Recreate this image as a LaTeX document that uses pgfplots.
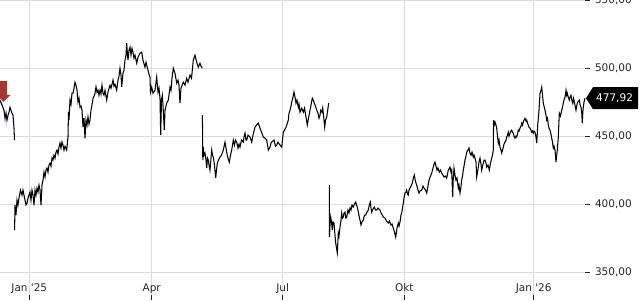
\documentclass[border=0pt]{standalone}
\usepackage{fontspec}
\newfontfamily\dv{DejaVu Sans}
\setmainfont{DejaVu Sans}
\usepackage{pgfplots}
\pgfplotsset{compat=1.18}
\definecolor{gridc}{RGB}{220,220,220}
\definecolor{arrowred}{RGB}{163,55,50}
\definecolor{cyanl}{RGB}{120,200,220}
\begin{document}
\begin{tikzpicture}
\useasboundingbox (0,0) rectangle (640pt,300pt);
\begin{axis}[
  at={(0,0)}, anchor=south west,
  scale only axis, width=585pt, height=300pt,
  xmin=0, xmax=585, ymin=329.4, ymax=550.2,
  axis line style={draw=none},
  clip=false,
  xtick={29.3,151.7,282.7,404.3,533.7},
  xticklabels={Jan \textquotesingle25,Apr,Jul,Okt,Jan \textquotesingle26},
  ytick={350,400,450,500,550},
  yticklabels={{350,00},{400,00},{450,00},{500,00},{550,00}},
  yticklabel pos=right,
  tick align=outside,
  major tick length=5pt,
  xtick style={yshift=5pt, draw=black!85, line width=0.8pt},
  ytick style={draw=black!85, line width=0.8pt},
  grid=major,
  major grid style={draw=gridc, line width=0.8pt},
  ticklabel style={font=\dv\fontsize{10.5}{12}\selectfont, text=black!85},
  yticklabel style={anchor=west, xshift=1.5pt},
  xticklabel style={anchor=base, yshift=14pt},
]
\addplot[cyanl, line width=0.6pt] coordinates {(1.5,475.2) (4,469) (6.5,457.3)};
\addplot[black, line width=1.05pt] coordinates {
(0,476.5) (2,472.8) (4,469.1) (5,463.2) (6,466.9) (7,461.8) (8,465.4) (9,467.6) (10,471.3) (11,469.1) (12,466.9) (13,465.4) (14,455.9) (14.5,447.1)};
\addplot[black, line width=1.05pt] coordinates {
(14.6,380.9) (15,399.3) (16,391.9) (17,402.9) (18,399.3) (19,404.4) (20.5,410.3) (22,406.6) (23,410.3) (24,406.6) (25,402.9) (26,399.3) (27,400.7) (28,404.4) (30,408.8) (31,402.9) (32,410.3) (33,406.6) (34,399.3) (35,410.3) (36,406.6) (37,411.8) (38,408.8) (39,414.0) (40,410.3) (41,399.3) (42,414.0) (43,417.6) (44,423.5) (45,419.9) (46,425.0) (47,426.5) (48,423.5) (49,428.7) (50,430.1) (51,427.9) (52,433.8) (53,432.4) (54,436.0) (55,433.8) (56,438.2) (57,439.7) (58,436.8) (59,441.9) (60,444.9) (61,441.2) (62,445.6) (63,443.4) (64,439.7) (65,442.6) (66.7,439.7) (68,449.5) (68.5,467.9) (69,461.8) (70,476.5) (71,473.5) (72,481.6) (73,481.6) (74,485.3) (75,489.7) (76,487.5) (77,483.8) (78,475.2) (79,477.9) (80,471.3) (81,472.1) (82,469.1) (83,456.8) (84,463.2) (85,448.3) (86,461.8) (87,458.1) (88,464.2) (89,458.8) (90,461.8) (91,469.1) (92,472.8) (93,477.9) (94,479.4) (95,481.6) (96,486.3) (97,482.4) (98,483.8) (99,480.1) (100,483.8) (101,480.9) (102,487.5) (103,481.6) (104,480.1) (105,483.8) (106.7,476.5) (108,482.4) (110,487.5) (111,485.3) (113,491.2) (114,486.8) (115,488.2) (116.7,483.8) (118,491.2) (119,494.1) (120,500.0) (121,494.9) (121.7,486.3) (123,496.3) (124,498.5) (125,505.9) (126,509.6) (126.7,518.4) (127.5,509.6) (128,505.9) (129,513.2) (130,515.4) (131,509.6) (132,514.7) (133,511.8) (134,507.4) (135,509.6) (136.7,503.7) (138,508.1) (140,511.0) (141.7,511.8) (143,505.9) (145,500.7) (146,504.4) (148,498.5) (149,495.6) (150,493.4) (150.5,482.4) (151.7,486.0) (153,481.6) (155,483.8) (156.7,493.4) (158,482.4) (159,485.3) (160,477.9) (160.7,450.7) (161.5,476.5) (162.3,480.1) (163,472.8) (164.3,454.4) (165,469.1) (166.7,474.3) (168.3,476.5) (170,486.0) (171,483.8) (172,492.6) (173.3,500.0) (175,496.3) (176.7,489.0) (178,491.2) (179,487.5) (180,474.3) (181,485.3) (183.3,489.7) (185,487.5) (186.7,492.6) (188,489.7) (190,494.9) (191.5,492.6) (193.3,505.9) (195,509.6) (196.7,504.4) (198.3,500.7) (200,503.7) (201,501.5) (202.3,500.0)};
\addplot[black, line width=1.05pt] coordinates {
(202.4,465.4) (202.8,432.4) (203.3,442.1) (204,436.0) (205,437.5) (206,432.4) (206.7,426.5) (207.5,433.8) (208.3,432.4) (209,428.7) (210,425.0) (211,433.8) (211.7,439.7) (212.5,436.0) (213.3,434.6) (214.5,428.7) (215.7,419.1) (216.5,425.0) (217.3,430.1) (218.5,432.4) (220,434.6) (221.5,436.0) (223.3,439.7) (225,445.6) (226,441.2) (226.7,438.2) (228,433.8) (229.3,430.9) (230.5,436.0) (231.7,439.7) (233.3,447.1) (234.5,443.4) (235.5,447.1) (236.7,445.6) (238,441.2) (239,444.1) (240,441.9) (241.5,447.1) (243.3,445.6) (244,449.3) (245,452.2) (246,447.1) (246.7,447.1) (248,450.7) (250,449.3) (251.7,445.6) (253,450.7) (255,456.6) (256.5,458.1) (258.3,459.6) (260,455.9) (261.5,452.9) (263.3,449.3) (265,448.5) (266.7,447.1) (268.3,439.7) (270,441.9) (271,444.9) (271.7,445.6) (274,447.1) (275.5,442.6) (276.7,443.4) (278,445.6) (280,443.4) (281.7,441.9) (283.3,452.9) (284.5,454.4) (286,456.6) (287,458.8) (288.3,461.8) (289,466.9) (290,469.1) (291,472.1) (291.7,475.0) (293,478.7) (294,482.4) (295,478.7) (296,474.3) (297,476.5) (298.3,471.3) (299,473.5) (300,467.6) (301.7,470.6) (303.3,467.6) (304.5,470.6) (306,464.0) (307.3,458.1) (308.5,463.2) (310,469.1) (311,472.8) (312.3,477.9) (313.3,476.5) (314.3,474.3) (315.5,472.1) (316.7,469.1) (318,466.9) (319,463.2) (320,465.4) (320.7,469.1) (322,467.6) (322.7,470.6) (323.5,465.4) (324.7,456.6) (325.5,461.8) (326.7,464.0) (327.7,469.1) (328.7,474.3)};
\addplot[black, line width=1.05pt] coordinates {
(329.3,414.0) (329.5,375.7) (330,384.6) (330.7,390.4) (331.5,386.8) (332.3,380.9) (333,386.8) (334,386.0) (335,377.2) (335.7,371.3) (336.5,367.6) (337.3,364.0) (338.3,378.7) (339,376.5) (340,383.1) (341,388.2) (341.7,393.4) (342.5,389.7) (343.3,390.4) (344,393.4) (345,394.1) (345.8,389.7) (346.7,390.4) (348,395.6) (349,393.4) (350,397.1) (351,395.6) (352,399.3) (353.3,397.8) (354.5,400.0) (355.7,401.5) (356.5,399.3) (357.3,397.8) (358.3,394.1) (359.3,390.4) (360,388.2) (361,384.6) (362,386.8) (363.3,388.2) (364.5,391.9) (365.7,391.9) (367,394.1) (368.3,395.6) (369.3,399.3) (370.3,401.5) (371,397.1) (371.7,394.1) (373,396.3) (374.3,397.8) (375.5,395.6) (376.7,395.6) (378,397.1) (380,395.6) (381,393.4) (382.3,391.9) (383.5,390.4) (385,389.7) (386.5,387.5) (388.3,386.0) (389.5,387.5) (391,384.6) (392,385.3) (393.3,382.3) (394.5,379.4) (395.7,375.7) (397,382.3) (398.3,386.0) (399,383.8) (400,386.8) (401,391.9) (401.7,393.4) (402.5,397.1) (403,399.3) (404,404.4) (405,408.1) (406,408.8) (406.7,410.3) (407.5,407.4) (408.3,406.6) (409,410.3) (410,411.8) (411,413.2) (412.3,415.4) (413.3,419.1) (414.3,421.3) (415,418.4) (415.7,416.2) (417.3,412.5) (418,410.3) (419,408.1) (420,409.6) (421.7,410.3) (423,413.2) (424,411.8) (425.5,410.3) (426.7,408.1) (428,413.2) (429,417.6) (430.5,420.6) (431.7,422.8) (432.5,425.0) (433.3,427.2) (434,429.4) (435,430.9) (436,427.9) (437,425.0) (438,426.5) (439.3,423.5) (440.5,425.0) (441.7,422.8) (443,421.3) (444,419.9) (445.5,420.6) (446.7,419.1) (448.3,425.0) (450,427.2) (451,423.5) (451.7,425.0) (452.7,405.1) (453.2,417.6) (454,426.5) (455,421.3) (456,417.6) (457,419.1) (458.3,411.8) (459,414.0) (460,408.1) (460.8,411.8) (461.7,417.6) (462.5,420.6) (463.3,425.0) (464,427.9) (465,432.4) (466,435.3) (466.7,438.2) (468,439.7) (469,441.2) (470,437.5) (471,436.0) (472,438.2) (473.3,434.6) (474,436.0) (475,433.8) (476,430.9) (476.7,419.9) (477.5,423.5) (478.3,427.2) (479,430.9) (480,433.8) (481,429.4) (481.7,425.0) (482.5,427.9) (483.3,430.1) (484,432.4) (485,432.4) (486,430.1) (486.7,427.2) (488,428.7) (489.3,425.0) (490.5,430.1) (491.7,433.8) (492.5,436.0) (493.3,439.7) (493.6,461.8) (494.2,458.1) (495,460.3) (496,458.1) (496.7,455.9) (497.5,450.0) (498.3,444.9) (499,447.1) (500,441.9) (501,439.7) (501.7,437.5) (502.5,439.7) (503.3,441.9) (504,444.1) (505,445.6) (506,447.1) (506.7,449.3) (507.5,450.7) (508.3,452.9) (509,450.0) (510,452.2) (511,453.7) (511.7,454.4) (512.5,452.9) (513.3,452.2) (514,450.0) (515,448.5) (516,450.0) (516.7,449.3) (517.5,451.5) (518.3,454.4) (519,453.7) (520,455.9) (521,457.4) (521.7,459.6) (522.5,458.1) (523.3,460.3) (524,461.8) (525,463.2) (526,461.0) (526.7,461.8) (527.5,459.6) (528.3,458.1) (529,456.6) (530,455.9) (531,454.4) (531.7,452.9) (532.5,453.7) (533.3,452.2) (534,453.7) (535,452.9) (536,449.3) (536.7,444.9) (537.2,450.7) (537.7,458.1) (538.3,463.2) (539,469.1) (539.5,475.0) (540,481.6) (541,483.8) (541.7,486.0) (542.5,480.1) (543.3,474.3) (544,472.1) (545,469.1) (546,465.4) (546.7,461.8) (547.5,463.2) (548.3,458.1) (549,455.9) (550,454.4) (551,451.5) (551.7,448.5) (552.5,445.6) (553.3,441.2) (554,442.6) (555,439.7) (556,430.9) (556.7,436.0) (557.3,439.7) (558.3,449.3) (559.3,466.9) (560.5,464.7) (561.7,469.1) (562.5,471.3) (563.3,474.3) (564,476.5) (565,478.7) (566,483.8) (566.7,480.1) (567.3,481.6) (568,479.4) (569.3,476.5) (570,478.7) (571,480.1) (571.8,476.5) (572.7,474.3) (573.5,477.9) (574.3,475.0) (575,472.8) (576,469.1) (576.7,472.1) (577.3,474.3) (578.3,475.7) (579.3,476.5) (580,473.5) (581,471.3) (581.7,467.6) (582.3,459.6) (582.8,467.6) (583.3,471.3) (584,475.0) (585,477.9)};
% start marker arrow (pointing down)
\fill[arrowred] (axis cs:3.5,475.3) -- ++(-7.3pt,7pt) -- ++(3.6pt,0pt) -- ++(0pt,14pt) -- ++(7.4pt,0pt) -- ++(0pt,-14pt) -- ++(3.6pt,0pt) -- cycle;
% last price label
\fill[black] (axis cs:585,477.92) ++(1pt,0pt) -- ++(7pt,11pt) -- ++(45pt,0pt) -- ++(0pt,-22pt) -- ++(-45pt,0pt) -- cycle;
\node[anchor=west, text=white, font=\dv\fontsize{10.5}{12}\selectfont, inner sep=0pt] at ([xshift=11pt]axis cs:585,477.92) {477,92};
\end{axis}
\end{tikzpicture}
\end{document}
